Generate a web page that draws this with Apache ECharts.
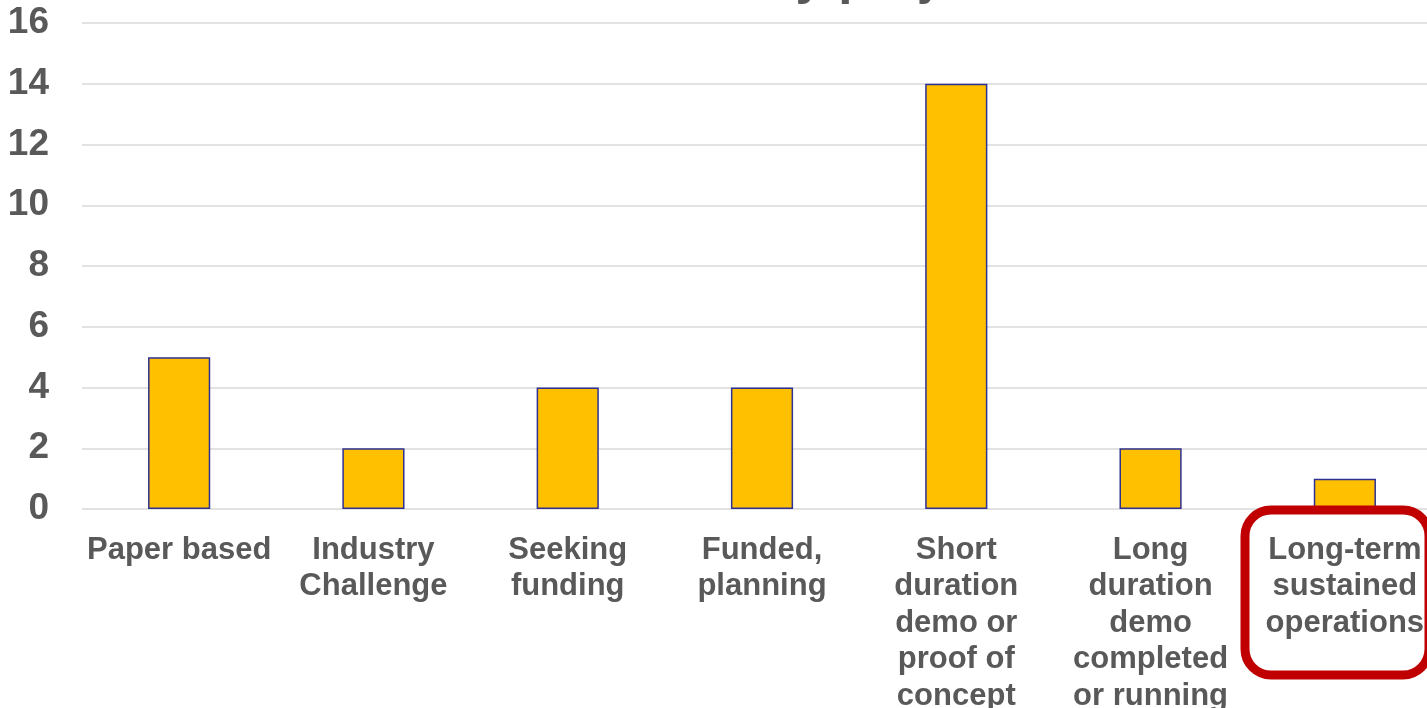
<!DOCTYPE html>
<html>
<head>
<meta charset="utf-8">
<script src="https://cdn.jsdelivr.net/npm/echarts@6/dist/echarts.min.js"></script>
<style>
html,body{margin:0;padding:0;background:#fff;}
#c{width:1427px;height:708px;}
</style>
</head>
<body>
<div id="c"></div>
<script>
const titleText = "Status of industry projects";
const categories = [
  "Paper based",
  "Industry\nChallenge",
  "Seeking\nfunding",
  "Funded,\nplanning",
  "Short\nduration\ndemo or\nproof of\nconcept",
  "Long\nduration\ndemo\ncompleted\nor running",
  "Long-term\nsustained\noperations"
];
const values = [5, 2, 4, 4, 14, 2, 1];
const yTicks = { min: 0, max: 16, interval: 2 };

const chart = echarts.init(document.getElementById('c'));
const FONT = '"Liberation Sans", Arial, sans-serif';
chart.setOption({
  animation: false,
  title: {
    text: titleText,
    left: 'center',
    top: -47,
    padding: 0,
    textStyle: { fontFamily: FONT, fontSize: 51, fontWeight: 'bold', color: '#595959' }
  },
  grid: { left: 82, width: 1360, top: 23, height: 486, containLabel: false, outerBoundsMode: 'none' },
  xAxis: {
    type: 'category',
    data: categories,
    axisTick: { show: false },
    axisLine: { show: false },
    axisLabel: {
      interval: 0,
      margin: 23,
      fontFamily: FONT,
      fontSize: 31,
      fontWeight: 'bold',
      color: '#595959',
      lineHeight: 36.5
    }
  },
  yAxis: {
    type: 'value',
    min: yTicks.min,
    max: yTicks.max,
    interval: yTicks.interval,
    axisLine: { show: false },
    axisTick: { show: false },
    splitLine: { lineStyle: { color: '#D9D9D9', width: 1.5 } },
    axisLabel: {
      margin: 33,
      fontFamily: FONT,
      fontSize: 37,
      fontWeight: 'bold',
      color: '#595959'
    }
  },
  series: [{
    type: 'bar',
    data: values,
    barWidth: '32%',
    itemStyle: { color: '#FFC000', borderColor: '#2E3192', borderWidth: 1.5 }
  }],
  graphic: [{
    type: 'rect',
    shape: { x: 1245, y: 510, width: 184, height: 165, r: 26 },
    style: { fill: 'none', stroke: '#C00000', lineWidth: 9 },
    z: 100
  }]
});
</script>
</body>
</html>
